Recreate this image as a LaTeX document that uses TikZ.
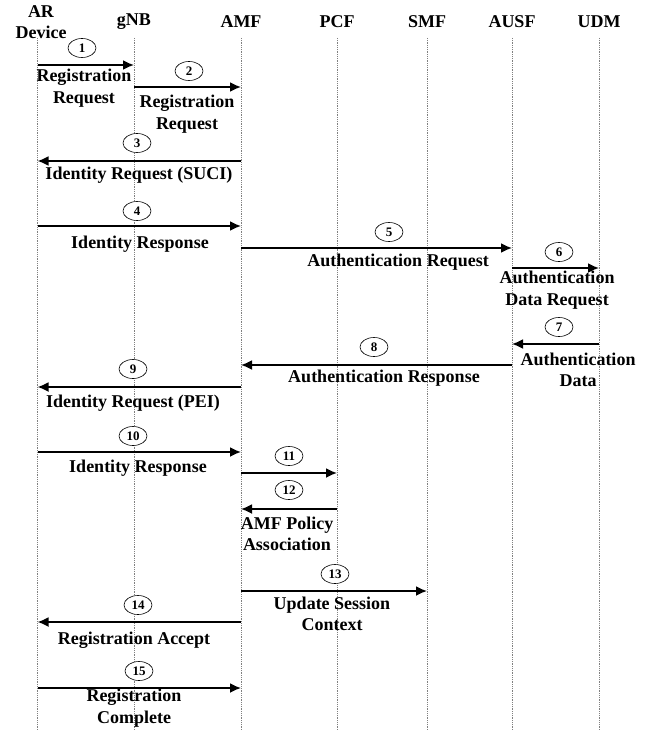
\documentclass[tikz,border=0pt]{standalone}
\usepackage{fontspec}
\setmainfont{Liberation Serif}
\usetikzlibrary{
	positioning
	,shapes.geometric
	,arrows.meta
}
\newcommand{\msg}[3][]{
	\draw[#1] (#2) -- (#3);
}
\tikzset{
	head node/.style={
		inner sep=0pt,
		align=center,
		font=\bfseries\fontsize{18}{21}\selectfont
	},
	msg text/.style={
		inner sep=0pt,
		align=center,
		font=\bfseries\fontsize{18}{21.5}\selectfont
	},
	step num/.style={
		draw,
		ellipse,
		fill=white,
		inner sep=0pt,
		minimum width=28pt,
		minimum height=19pt,
		line width=0.6pt,
		font=\bfseries\fontsize{13}{13}\selectfont
	},
	lifeline/.style={
		gray,
		densely dotted,
		line width=0.8pt
	},
	msg line/.style={
		black,
		line width=1.8pt,
		-{Latex[length=11pt,width=10pt]}
	}
}

\begin{document}
\begin{tikzpicture}[x=1pt,y=-1pt]
	\useasboundingbox (0,0) rectangle (651,730);

	% entities
	\node[head node](ar) at(41,22){AR\\Device};
	\foreach \n/\x/\t in{
		gnb/134/gNB,amf/241/AMF,pcf/337/PCF,smf/427/SMF,ausf/512/AUSF,udm/599/UDM%
	}{
		\node[head node](\n) at(\x,22){\t};
	}

	% lifelines
	\foreach \n/\x in{
		ar/37.5,gnb/134,amf/241,pcf/337,smf/427,ausf/512,udm/599%
	}{
		\coordinate (\n top) at(\x,38);
		\coordinate (\n bot) at(\x,730);
		\draw[lifeline] (\n top) -- (\n bot);
	}

	% messages
	\foreach \i/\a/\b/\y in{
		1/ar/gnb/65,2/gnb/amf/87,3/amf/ar/161,4/ar/amf/226,
		5/amf/ausf/248,6/ausf/udm/268,7/udm/ausf/344,8/ausf/amf/365,
		9/amf/ar/387,10/ar/amf/452,11/amf/pcf/473,12/pcf/amf/509,
		13/amf/smf/591,14/amf/ar/622,15/ar/amf/688%
	}{
		\path (\a top) ++(0,\y-38) coordinate (m\i s);
		\path (\b top) ++(0,\y-38) coordinate (m\i e);
		\msg[msg line]{m\i s}{m\i e};
	}

	% step numbers
	\foreach \i/\cx/\cy in{
		1/82/48,2/189/71,3/137/143,4/137/211,5/389/232,
		6/559/252,7/559/327,8/374/347,9/133/369,10/133/436,
		11/289/456,12/289/490,13/335/574,14/138/605,15/139/671%
	}{
		\node[step num](n\i) at(\cx,\cy){\i};
	}

	% labels
	\node[msg text](t1) at(84,88){Registration\\Request};
	\node[msg text](t2) at(187,114){Registration\\Request};
	\node[msg text](t3) at(139,175){Identity Request (SUCI)};
	\node[msg text](t4) at(140,244){Identity Response};
	\node[msg text](t5) at(398,262){Authentication Request};
	\node[msg text](t6) at(557,290){Authentication\\Data Request};
	\node[msg text](t7) at(578,370){Authentication\\Data};
	\node[msg text](t8) at(384,378){Authentication Response};
	\node[msg text](t9) at(133,403){Identity Request (PEI)};
	\node[msg text](t10) at(138,468){Identity Response};
	\node[msg text](t12) at(287,534){AMF Policy\\Association};
	\node[msg text](t13) at(332,614){Update Session\\Context};
	\node[msg text](t14) at(134,640){Registration Accept};
	\node[msg text](t15) at(134,708){Registration\\Complete};
\end{tikzpicture}
\end{document}
